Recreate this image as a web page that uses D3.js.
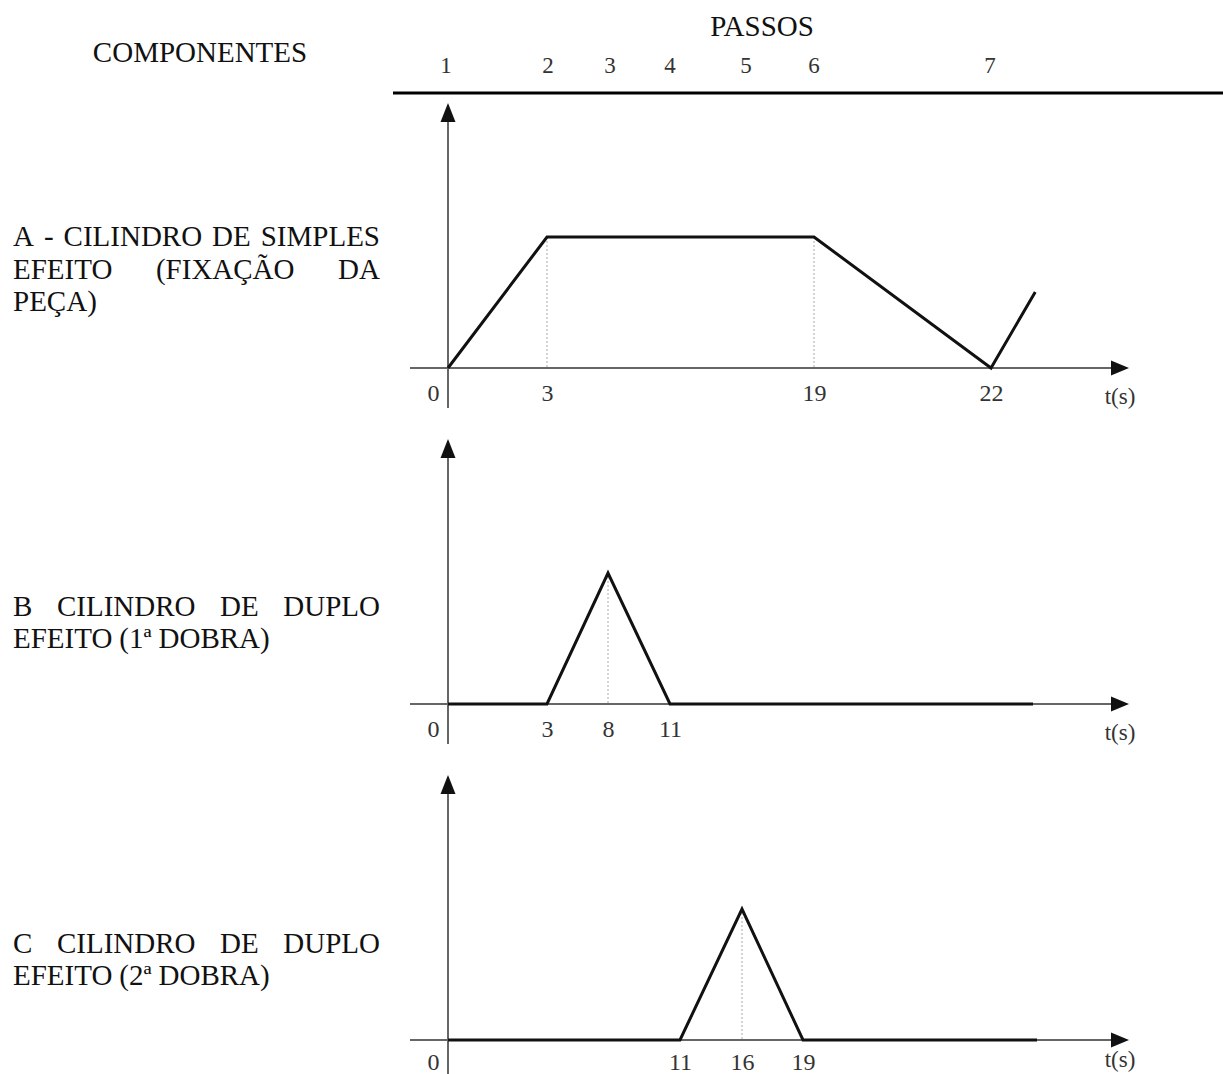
<!DOCTYPE html>
<html>
<head>
<meta charset="utf-8">
<script src="https://cdn.jsdelivr.net/npm/d3@7"></script>
<style>
  body { margin: 0; background: #fff; }
  text { font-family: 'Liberation Serif', 'DejaVu Serif', serif; }
</style>
</head>
<body>
<div id="viz"></div>
<script>
const width = 1223;
const height = 1074;

// header: steps and the time at which each starts
const stepLabels = ['1', '2', '3', '4', '5', '6', '7'];
const stepTimes = [0, 3, 8, 11, 16, 19, 22];

const componentLabels = [
  ['A - CILINDRO DE SIMPLES', 'EFEITO (FIXAÇÃO DA', 'PEÇA)'],
  ['B CILINDRO DE DUPLO', 'EFEITO (1ª DOBRA)'],
  ['C CILINDRO DE DUPLO', 'EFEITO (2ª DOBRA)']
];

// cylinder position (0 = recuado, 1 = avançado) over time
const timesA = [0, 3, 19, 22, 22.75];
const levelsA = [0, 1, 1, 0, 0.58];
const timesB = [0, 3, 8, 11, 24];
const levelsB = [0, 0, 1, 0, 0];
const timesC = [0, 11, 16, 19, 24];
const levelsC = [0, 0, 1, 0, 0];

const ticksA = [0, 3, 19, 22];
const ticksB = [0, 3, 8, 11];
const ticksC = [0, 11, 16, 19];

const guidesA = [3, 19];
const guidesB = [8];
const guidesC = [16];

// the time axis of the drawing is not to scale, so each chart gets a piecewise scale
const charts = [
  { times: timesA, levels: levelsA, ticks: ticksA, guides: guidesA,
    base: 368, labelY: [246, 279, 311], tickDy: 33, unitDy: 36,
    domain: [0, 3, 19, 22], range: [448, 547, 814, 991] },
  { times: timesB, levels: levelsB, ticks: ticksB, guides: guidesB,
    base: 704, labelY: [616, 648], tickDy: 33, unitDy: 36,
    domain: [0, 3, 8, 11, 24], range: [448, 547, 608, 670, 1033] },
  { times: timesC, levels: levelsC, ticks: ticksC, guides: guidesC,
    base: 1040, labelY: [953, 985], tickDy: 30, unitDy: 27,
    domain: [0, 11, 16, 19, 24], range: [448, 680, 742, 803, 1037] }
];

const axisX = 448;
const axisLeft = 410;
const axisRight = 1129;
const axisTop = 265;   // distance of the y arrow tip above the baseline
const axisBelow = 40;
const levelHeight = 131;
const labelLeft = 13, labelRight = 380;

const svg = d3.select('#viz').append('svg')
  .attr('width', width)
  .attr('height', height)
  .attr('viewBox', [0, 0, width, height]);

// header
svg.append('text')
  .attr('x', 200).attr('y', 62)
  .attr('text-anchor', 'middle')
  .attr('font-size', 29)
  .attr('fill', '#111')
  .text('COMPONENTES');

svg.append('text')
  .attr('x', 762).attr('y', 36)
  .attr('text-anchor', 'middle')
  .attr('font-size', 29)
  .attr('fill', '#111')
  .text('PASSOS');

let stepX = d3.scaleLinear()
  .domain(stepTimes)
  .range([446, 548, 610, 670, 746, 814, 990]);

svg.append('g')
  .selectAll('text')
  .data(stepLabels)
  .join('text')
  .attr('x', (d, i) => stepX(stepTimes[i]))
  .attr('y', 73)
  .attr('text-anchor', 'middle')
  .attr('font-size', 23)
  .attr('fill', '#333')
  .text(d => d);

svg.append('line')
  .attr('x1', 393).attr('x2', width)
  .attr('y1', 93).attr('y2', 93)
  .attr('stroke', '#000')
  .attr('stroke-width', 3);

// justified label lines (all but the last line of a block)
function drawLabel(lines, ys) {
  const g = svg.append('g').attr('font-size', 29).attr('fill', '#111');
  lines.forEach((line, li) => {
    const words = line.split(' ');
    const texts = words.map(w => g.append('text').attr('y', ys[li]).text(w));
    const widths = texts.map(t => t.node().getComputedTextLength());
    let gap = 7;
    if (li < lines.length - 1 && words.length > 1) {
      gap = (labelRight - labelLeft - d3.sum(widths)) / (words.length - 1);
    }
    let x = labelLeft;
    texts.forEach((t, i) => {
      t.attr('x', x);
      x += widths[i] + gap;
    });
  });
}

charts.forEach((c, ci) => {
  let x = d3.scaleLinear().domain(c.domain).range(c.range);
  let y = d3.scaleLinear().domain([0, 1]).range([c.base, c.base - levelHeight]);

  drawLabel(componentLabels[ci], c.labelY);

  const g = svg.append('g');

  // dotted guides
  g.selectAll('.guide')
    .data(c.guides)
    .join('line')
    .attr('class', 'guide')
    .attr('x1', d => x(d)).attr('x2', d => x(d))
    .attr('y1', y(1)).attr('y2', y(0))
    .attr('stroke', '#aaa')
    .attr('stroke-width', 1)
    .attr('stroke-dasharray', '2,2');

  // axes
  g.append('line')
    .attr('x1', axisLeft).attr('x2', axisRight - 12)
    .attr('y1', c.base).attr('y2', c.base)
    .attr('stroke', '#666')
    .attr('stroke-width', 2);
  g.append('path')
    .attr('d', `M${axisRight},${c.base}L${axisRight - 18},${c.base - 7.5}L${axisRight - 18},${c.base + 7.5}Z`)
    .attr('fill', '#111');

  g.append('line')
    .attr('x1', axisX).attr('x2', axisX)
    .attr('y1', c.base - axisTop + 12).attr('y2', Math.min(c.base + axisBelow, height))
    .attr('stroke', '#666')
    .attr('stroke-width', 2);
  g.append('path')
    .attr('d', `M${axisX},${c.base - axisTop}L${axisX - 7.5},${c.base - axisTop + 19}L${axisX + 7.5},${c.base - axisTop + 19}Z`)
    .attr('fill', '#111');

  // data line
  let line = d3.line()
    .x(i => x(c.times[i]))
    .y(i => y(c.levels[i]));

  g.append('path')
    .attr('d', line(d3.range(c.times.length)))
    .attr('fill', 'none')
    .attr('stroke', '#111')
    .attr('stroke-width', 3)
    .attr('stroke-linejoin', 'miter');

  // tick labels
  let axis = d3.axisBottom(x).tickValues(c.ticks).tickSize(0).tickPadding(0).tickFormat(d3.format('d'));
  let ag = g.append('g')
    .attr('transform', `translate(0,${c.base + c.tickDy})`)
    .call(axis);
  ag.select('.domain').remove();
  ag.selectAll('text')
    .attr('font-family', "'Liberation Serif', serif")
    .attr('font-size', 24)
    .attr('fill', '#333')
    .attr('dy', 0)
    .attr('x', d => d === 0 ? -15 : 0);

  g.append('text')
    .attr('x', 1120)
    .attr('y', c.base + c.unitDy)
    .attr('text-anchor', 'middle')
    .attr('font-size', 23)
    .attr('fill', '#333')
    .text('t(s)');
});
</script>
</body>
</html>
